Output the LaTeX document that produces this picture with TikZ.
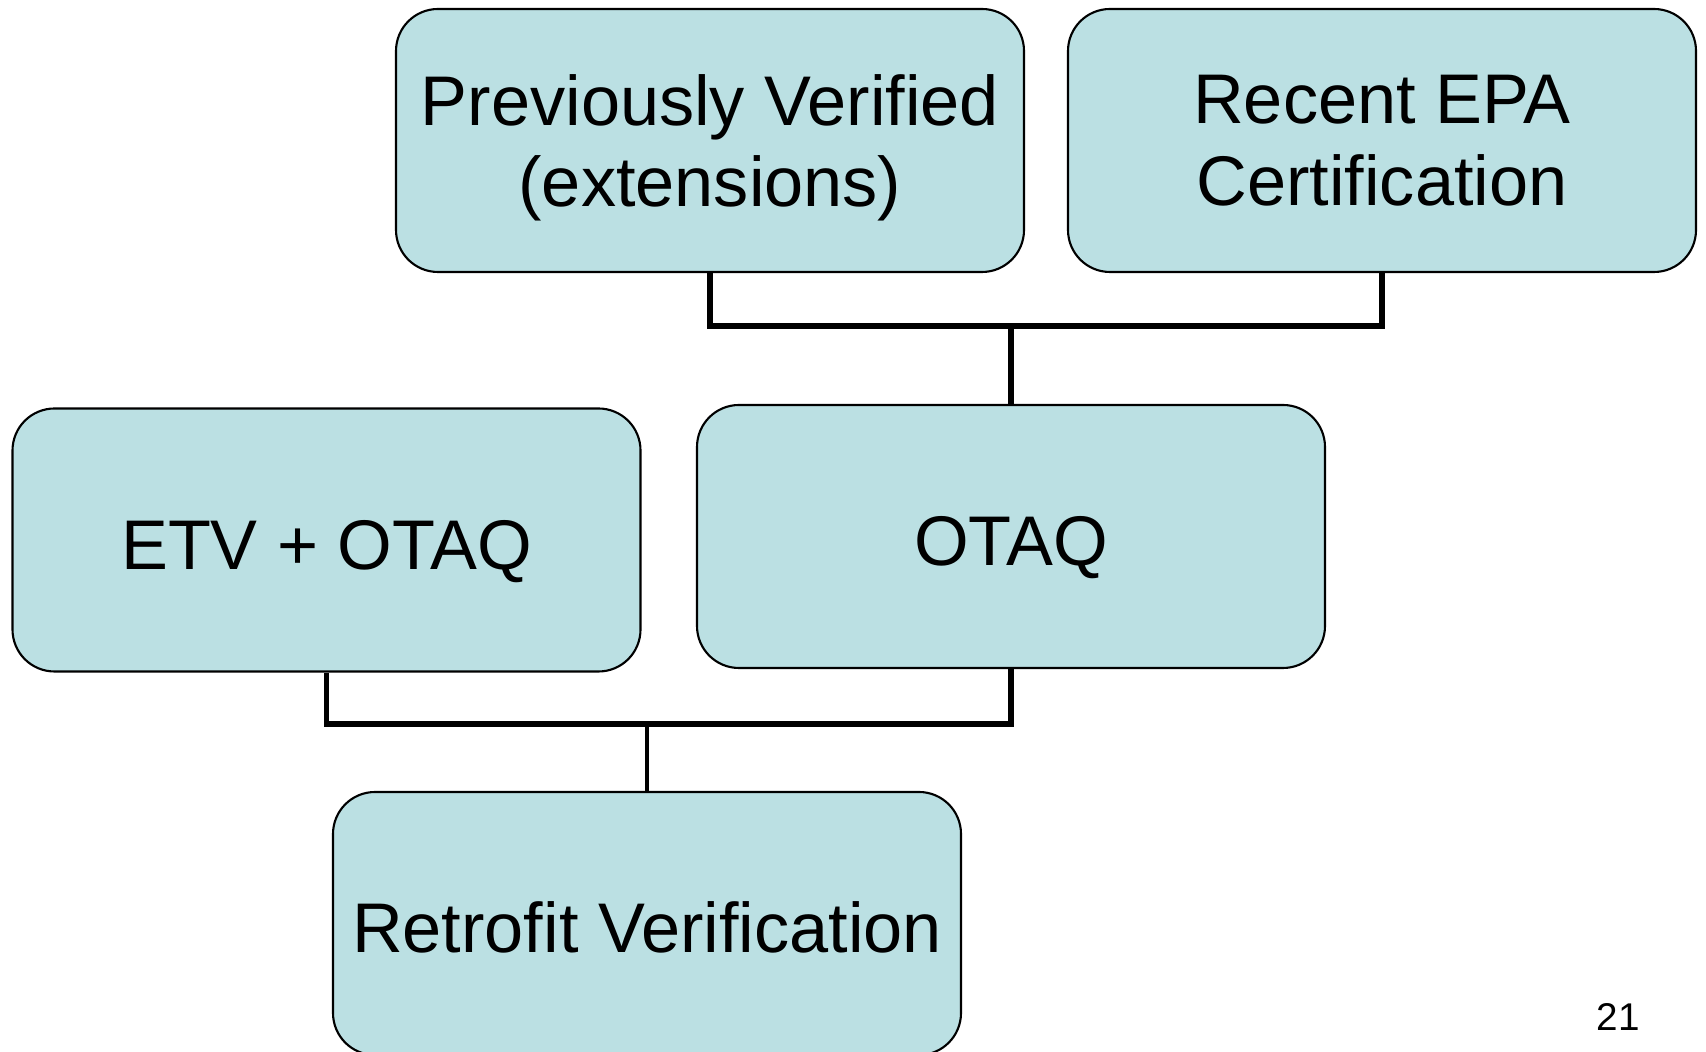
\documentclass[tikz,border=0pt]{standalone}
\usepackage{fontspec}
\setmainfont{Liberation Sans}
\usepackage{xcolor}
\definecolor{boxfill}{RGB}{187,224,227}
\tikzset{stage/.style={draw=black, line width=0.6pt, fill=boxfill,
   rounded corners=0.42cm, minimum width=6.28cm, minimum height=2.63cm,
   align=center, text depth=0pt, font=\fontsize{20}{23.3}\selectfont},
 oneline/.style={text height=16.6pt},
 link/.style={draw, line width=1.5pt},
 }

\begin{document}
\begin{tikzpicture}
        \clip (0, 0) rectangle (17.06, -10.52);
        \node [stage] (prev) at (7.10, -1.405) {Previously Verified\\(extensions)};
        \node [stage] (epa) at (13.82, -1.405) {Recent EPA\\Certification};
        \node [stage, oneline] (etv) at (3.265, -5.40) {ETV + OTAQ};
        \node [stage, oneline] (otaq) at (10.11, -5.365) {OTAQ};
        \node [stage, oneline] (retro) at (6.47, -9.235) {Retrofit Verification};
        \coordinate (upjoin) at (10.11, -3.26);
        \coordinate (lowjoin) at (6.47, -7.24);
        \draw [link] (prev.south) |- (upjoin) -| (epa.south);
        \draw [link] (upjoin) -- (otaq.north);
        \draw [link] (etv.south) |- (lowjoin) -| (otaq.south);
        \draw [link, line width=1.2pt] (lowjoin) -- (retro.north);
        \node [font=\fontsize{11}{13}\selectfont] (page) at (16.18, -10.17) {21};
    \end{tikzpicture}
\end{document}
